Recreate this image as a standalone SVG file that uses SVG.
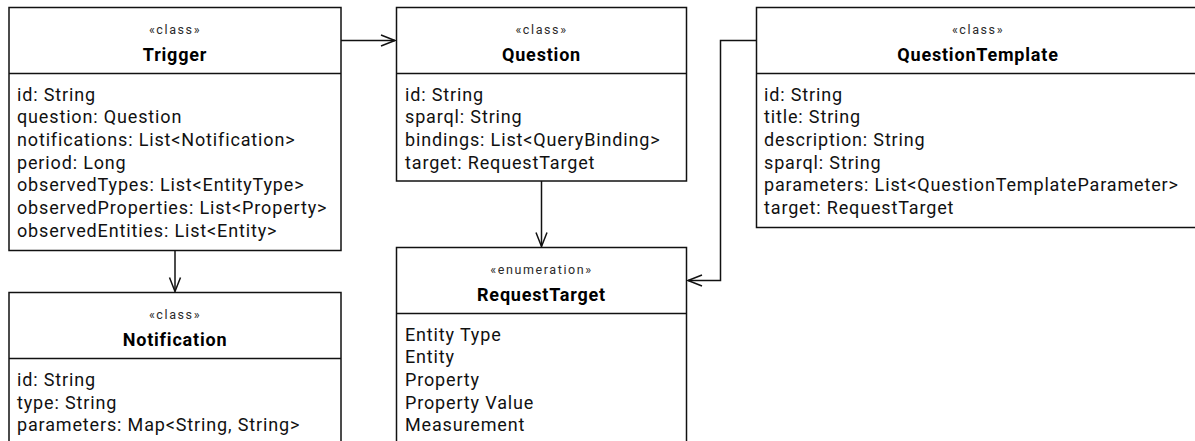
<svg xmlns="http://www.w3.org/2000/svg" width="1195" height="441" viewBox="0 0 1195 441">
  <defs>
    <style>
      .box { fill: #ffffff; stroke: #111111; stroke-width: 1.5; }
      .sep { stroke: #111111; stroke-width: 1.5; }
      .stereo { font-family: Roboto, "Liberation Sans", sans-serif; font-size: 12.5px; letter-spacing: 1.6px; fill: #2a2a2a; text-anchor: middle; }
      .name { font-family: Roboto, "Liberation Sans", sans-serif; font-size: 18px; font-weight: bold; letter-spacing: 0.8px; fill: #000000; text-anchor: middle; }
      .attr { font-family: Roboto, "Liberation Sans", sans-serif; font-size: 18px; letter-spacing: 0.85px; fill: #111111; }
      .link { fill: none; stroke: #111111; stroke-width: 1.5; }
    </style>
    <marker id="open" markerUnits="userSpaceOnUse" markerWidth="20" markerHeight="16" viewBox="-16 -8 20 16" refX="0" refY="0" orient="auto">
      <path d="M-14,-5.5 L0,0 L-14,5.5" fill="none" stroke="#111111" stroke-width="1.5"/>
    </marker>
  </defs>

  <rect width="1195" height="441" fill="#ffffff"/>

  <!-- connectors -->
  <g id="connectors">
    <path class="link" d="M341,40.5 H395" marker-end="url(#open)"/>
    <path class="link" d="M175,250.5 V291.5" marker-end="url(#open)"/>
    <path class="link" d="M541.5,181 V246.5" marker-end="url(#open)"/>
    <path class="link" d="M756.5,40.5 H720.5 V280.5 H688" marker-end="url(#open)"/>
  </g>

  <!-- Trigger -->
  <g id="trigger">
    <rect class="box" x="9" y="7.5" width="332" height="243"/>
    <line class="sep" x1="9" y1="73.5" x2="341" y2="73.5"/>
    <text class="stereo" x="175" y="34">«class»</text>
    <text class="name" x="175" y="60.5">Trigger</text>
    <text class="attr" x="17" y="100.5">id: String</text>
    <text class="attr" x="17" y="123.2">question: Question</text>
    <text class="attr" x="17" y="145.9">notifications: List&lt;Notification&gt;</text>
    <text class="attr" x="17" y="168.6">period: Long</text>
    <text class="attr" x="17" y="191.3">observedTypes: List&lt;EntityType&gt;</text>
    <text class="attr" x="17" y="214">observedProperties: List&lt;Property&gt;</text>
    <text class="attr" x="17" y="236.7">observedEntities: List&lt;Entity&gt;</text>
  </g>

  <!-- Question -->
  <g id="question">
    <rect class="box" x="396.5" y="7.5" width="290" height="173.5"/>
    <line class="sep" x1="396.5" y1="73.5" x2="686.5" y2="73.5"/>
    <text class="stereo" x="541.5" y="34">«class»</text>
    <text class="name" x="541.5" y="60.5">Question</text>
    <text class="attr" x="405" y="100.5">id: String</text>
    <text class="attr" x="405" y="123.2">sparql: String</text>
    <text class="attr" x="405" y="145.9">bindings: List&lt;QueryBinding&gt;</text>
    <text class="attr" x="405" y="168.6">target: RequestTarget</text>
  </g>

  <!-- QuestionTemplate -->
  <g id="question-template">
    <rect class="box" x="756.5" y="7.5" width="460" height="220"/>
    <line class="sep" x1="756.5" y1="73.5" x2="1216" y2="73.5"/>
    <text class="stereo" x="978" y="34">«class»</text>
    <text class="name" x="978" y="60.5">QuestionTemplate</text>
    <text class="attr" x="764" y="100.5">id: String</text>
    <text class="attr" x="764" y="123.2">title: String</text>
    <text class="attr" x="764" y="145.9">description: String</text>
    <text class="attr" x="764" y="168.6">sparql: String</text>
    <text class="attr" x="764" y="191.3">parameters: List&lt;QuestionTemplateParameter&gt;</text>
    <text class="attr" x="764" y="214">target: RequestTarget</text>
  </g>

  <!-- Notification -->
  <g id="notification">
    <rect class="box" x="9" y="292.5" width="332" height="170"/>
    <line class="sep" x1="9" y1="358.5" x2="341" y2="358.5"/>
    <text class="stereo" x="175" y="319">«class»</text>
    <text class="name" x="175" y="345.5">Notification</text>
    <text class="attr" x="17" y="386">id: String</text>
    <text class="attr" x="17" y="408.7">type: String</text>
    <text class="attr" x="17" y="431.4">parameters: Map&lt;String, String&gt;</text>
  </g>

  <!-- RequestTarget -->
  <g id="request-target">
    <rect class="box" x="396.5" y="247.5" width="290" height="215"/>
    <line class="sep" x1="396.5" y1="313.5" x2="686.5" y2="313.5"/>
    <text class="stereo" x="541.5" y="274">«enumeration»</text>
    <text class="name" x="541.5" y="300.5">RequestTarget</text>
    <text class="attr" x="405" y="340.5">Entity Type</text>
    <text class="attr" x="405" y="363.2">Entity</text>
    <text class="attr" x="405" y="385.9">Property</text>
    <text class="attr" x="405" y="408.6">Property Value</text>
    <text class="attr" x="405" y="431.3">Measurement</text>
  </g>
</svg>
